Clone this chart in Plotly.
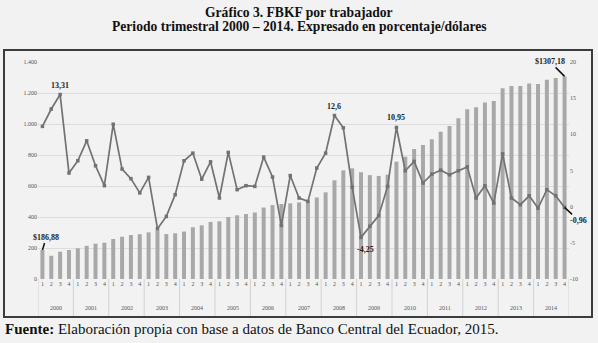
import plotly.graph_objects as go

years = ["2000", "2001", "2002", "2003", "2004", "2005", "2006", "2007",
         "2008", "2009", "2010", "2011", "2012", "2013", "2014"]
quarters = ["1", "2", "3", "4"]

# FBKF por trabajador (dólares) - left axis
fbkf_usd = [186.88, 150, 176, 187, 198, 214, 228, 234, 258, 273, 284, 289,
            301, 314, 290, 295, 306, 334, 346, 368, 372, 400, 411, 419,
            429, 461, 477, 484, 488, 494, 499, 526, 559, 637, 701, 714,
            689, 670, 665, 673, 757, 789, 839, 865, 901, 950, 987, 1037,
            1095, 1108, 1138, 1148, 1230, 1245, 1245, 1262, 1258, 1285, 1297, 1307.18]

# Variación porcentual - right axis
fbkf_pct = [11.1, 13.5, 15.5, 4.65, 6.35, 9.1, 5.66, 2.9, 11.4, 5.2, 3.87, 1.9,
            4.05, -3.04, -1.35, 1.66, 6.35, 7.4, 3.8, 6.2, 1.2, 7.5, 2.35, 2.9,
            2.8, 6.85, 4.1, -2.6, 4.3, 1.2, 0.73, 5.34, 7.4, 12.6, 10.9, 2.7,
            -4.25, -2.7, -1.24, 2.8, 10.95, 4.97, 6.26, 3.27, 4.5, 5.05, 4.4, 4.97,
            5.5, 1.2, 2.9, 0.5, 7.3, 1.2, 0.28, 1.5, -0.2, 2.35, 1.5, -0.1]

left_ticks = [0, 200, 400, 600, 800, 1000, 1200, 1400]
left_tick_labels = ["0", "200", "400", "600", "800", "1.000", "1.200", "1.400"]
right_ticks = [-10, -5, 0, 5, 10, 15, 20]
right_tick_labels = ["-10", "-5", "0", "5", "10", "15", "20"]

# point labels: (index, text)
pct_labels_above = [(2, "13,31"), (33, "12,6"), (40, "10,95")]
pct_labels_below = [(36, "-4,25")]

n = len(fbkf_usd)
xs = list(range(n))
q_text = [quarters[i % 4] for i in xs]

# pixel geometry
W, H = 598, 343
L, R, T, B = 38, 29, 62, 64
pw, ph = W - L - R, H - T - B

def px_x(p):
    return (p - L) / pw

def px_y(p):
    return (H - B - p) / ph

fig = go.Figure()
fig.add_trace(go.Bar(x=xs, y=fbkf_usd, marker_color="#a8a8a8", width=0.45,
                     marker_line_width=0, yaxis="y", showlegend=False, hoverinfo="skip"))
fig.add_trace(go.Scatter(x=xs, y=fbkf_pct, mode="lines+markers", yaxis="y2",
                         line=dict(color="#727272", width=1.7),
                         marker=dict(symbol="square", size=3.5, color="#727272"),
                         showlegend=False, hoverinfo="skip"))

annotations = []
lab_font = dict(family="Liberation Serif", size=8, color="#222222")
for i, t in pct_labels_above:
    annotations.append(dict(x=i, y=fbkf_pct[i], xref="x", yref="y2", text="<b>" + t + "</b>",
                            showarrow=False, yanchor="bottom", yshift=3, font=lab_font))
for i, t in pct_labels_below:
    annotations.append(dict(x=i, y=fbkf_pct[i], xref="x", yref="y2", text="<b>" + t + "</b>",
                            showarrow=False, yanchor="top", yshift=-6, xshift=4, font=lab_font))
# arrowed labels
annotations.append(dict(x=0, y=fbkf_usd[0], xref="x", yref="y", text="<b>$186,88</b>",
                        showarrow=True, arrowhead=0, arrowwidth=1.5, arrowcolor="#111111",
                        ax=4, ay=-13, font=lab_font))
annotations.append(dict(x=n - 1, y=fbkf_usd[-1], xref="x", yref="y", text="<b>$1307,18</b>",
                        showarrow=True, arrowhead=0, arrowwidth=1.5, arrowcolor="#111111",
                        ax=-15, ay=-15, font=lab_font))
annotations.append(dict(x=n - 1, y=fbkf_pct[-1], xref="x", yref="y2", text="<b>-0,96</b>",
                        showarrow=True, arrowhead=0, arrowwidth=1.5, arrowcolor="#111111",
                        ax=14, ay=13, font=lab_font))

# year labels
for k, yr in enumerate(years):
    annotations.append(dict(x=k * 4 + 1.5, y=px_y(308), xref="x", yref="paper", text=yr,
                            showarrow=False, yanchor="middle",
                            font=dict(family="Liberation Serif", size=6, color="#555555")))

# titles
title_font = dict(family="Liberation Serif", size=13.6, color="#111111")
annotations.append(dict(x=px_x(W / 2), y=px_y(12), xref="paper", yref="paper",
                        text="<b>Gráfico 3. FBKF por trabajador</b>",
                        showarrow=False, yanchor="middle", xanchor="center", font=title_font))
annotations.append(dict(x=px_x(W / 2), y=px_y(27), xref="paper", yref="paper",
                        text="<b>Periodo trimestral 2000 – 2014. Expresado en porcentaje/dólares</b>",
                        showarrow=False, yanchor="middle", xanchor="center", font=title_font))
annotations.append(dict(x=px_x(3), y=px_y(329), xref="paper", yref="paper",
                        text="<b>Fuente:</b> Elaboración propia con base a datos de Banco Central del Ecuador, 2015.",
                        showarrow=False, yanchor="middle", xanchor="left",
                        font=dict(family="Liberation Serif", size=15, color="#111111")))

shapes = []
for k in range(len(years) + 1):
    shapes.append(dict(type="line", xref="x", yref="paper", x0=k * 4 - 0.5, x1=k * 4 - 0.5,
                       y0=0, y1=px_y(316), line=dict(color="#d2d2d2", width=1)))
shapes.append(dict(type="rect", xref="paper", yref="paper", x0=px_x(4), x1=px_x(592),
                   y0=px_y(317), y1=px_y(50), line=dict(color="#3c3c3c", width=2)))

fig.update_layout(
    width=W, height=H,
    margin=dict(l=L, r=R, t=T, b=B),
    paper_bgcolor="#f2f2f2", plot_bgcolor="#f2f2f2",
    bargap=0.5,
    hovermode=False,
    xaxis=dict(range=[-0.5, n - 0.5], tickvals=xs, ticktext=q_text, showgrid=False,
               zeroline=False, showline=False, ticks="",
               tickfont=dict(family="Liberation Serif", size=6, color="#555555"), tickangle=0),
    yaxis=dict(range=[0, 1400], tickvals=left_ticks, ticktext=left_tick_labels,
               showgrid=True, gridcolor="#dcdcdc", gridwidth=1, zeroline=False,
               tickfont=dict(family="Liberation Serif", size=6, color="#555555")),
    yaxis2=dict(range=[-10, 20], tickvals=right_ticks, ticktext=right_tick_labels,
                overlaying="y", side="right", showgrid=False, zeroline=False,
                tickfont=dict(family="Liberation Serif", size=6, color="#555555")),
    annotations=annotations,
    shapes=shapes,
)

fig.write_html("out.html", config={"displayModeBar": False},
               post_script="document.body.style.margin='0px';document.body.style.background='#f2f2f2';")
